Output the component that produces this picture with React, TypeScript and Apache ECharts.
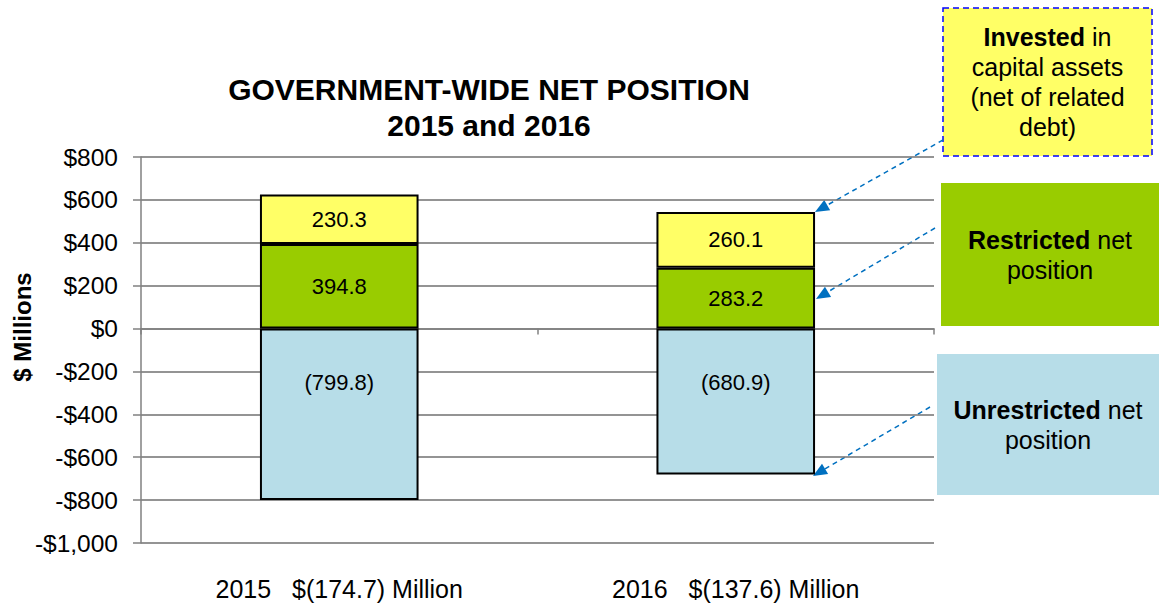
import React, { useEffect, useRef } from 'react';
import * as echarts from 'echarts';

const years = ['2015', '2016'];
const netTotals = ['$(174.7) Million', '$(137.6) Million'];
const invested = [230.3, 260.1];
const restricted = [394.8, 283.2];
const unrestricted = [-799.8, -680.9];
const yMin = -1000;
const yMax = 800;
const yStep = 200;

const FONT = '"Liberation Sans", Arial, sans-serif';
const C_YELLOW = '#FFFF66';
const C_GREEN = '#99CC00';
const C_BLUE = '#B7DDE8';
const C_ARROW = '#0070C0';

function arrow(x1: number, y1: number, x2: number, y2: number) {
  const dx = x2 - x1;
  const dy = y2 - y1;
  const len = Math.sqrt(dx * dx + dy * dy);
  const ux = dx / len;
  const uy = dy / len;
  const px = -uy;
  const py = ux;
  const L = 14;
  const W = 6;
  const bx = x2 - ux * L;
  const by = y2 - uy * L;
  return [
    {
      type: 'line',
      shape: { x1, y1, x2: bx, y2: by },
      style: { stroke: C_ARROW, lineWidth: 1.5, lineDash: [5, 4] },
      silent: true,
    },
    {
      type: 'polygon',
      shape: {
        points: [
          [x2, y2],
          [bx + px * W, by + py * W],
          [bx - px * W, by - py * W],
        ],
      },
      style: { fill: C_ARROW },
      silent: true,
    },
  ];
}

function legendBox(x: number, y: number, w: number, h: number, fill: string, text: string, dashed: boolean) {
  return [
    {
      type: 'rect',
      shape: { x, y, width: w, height: h },
      style: dashed
        ? { fill, stroke: '#0000FF', lineWidth: 1.5, lineDash: [6, 4] }
        : { fill },
      silent: true,
    },
    {
      type: 'text',
      x: x + w / 2,
      y: y + h / 2,
      style: {
        text,
        align: 'center',
        verticalAlign: 'middle',
        fontFamily: FONT,
        fontSize: 25,
        lineHeight: 30,
        fill: '#000',
        rich: {
          b: { fontFamily: FONT, fontSize: 25, fontWeight: 'bold', lineHeight: 30, fill: '#000' },
        },
      },
      silent: true,
    },
  ];
}

function fmtAxis(v: number) {
  const a = Math.abs(v).toLocaleString('en-US');
  return v < 0 ? '-$' + a : '$' + a;
}

export default function App() {
  const ref = useRef<HTMLDivElement>(null);
  useEffect(() => {
    if (!ref.current) return;
    const chart = echarts.init(ref.current, null, { renderer: 'svg' });
    const barCommon = {
      type: 'bar',
      stack: 'total',
      barWidth: '40%',
      itemStyle: { borderColor: '#000', borderWidth: 2 },
    };
    chart.setOption({
      animation: false,
      backgroundColor: '#fff',
      textStyle: { fontFamily: FONT },
      title: {
        text: 'GOVERNMENT-WIDE NET POSITION\n2015 and 2016',
        left: 484,
        top: 66,
        textAlign: 'center',
        textStyle: { fontFamily: FONT, fontSize: 30, fontWeight: 'bold', color: '#000', lineHeight: 36 },
      },
      grid: { left: 141, right: 225, top: 157, bottom: 71, containLabel: false },
      xAxis: [
        {
          type: 'category',
          data: years,
          axisLine: { onZero: true, lineStyle: { color: '#808080', width: 1.5 } },
          axisTick: { show: true, length: 6, lineStyle: { color: '#808080', width: 1.5 } },
          axisLabel: { show: false },
        },
        {
          type: 'category',
          position: 'bottom',
          data: years.map((y, i) => y + '   ' + netTotals[i]),
          axisLine: { show: false, onZero: false },
          axisTick: { show: false },
          axisLabel: { margin: 33, fontFamily: FONT, fontSize: 25, color: '#000' },
        },
      ],
      yAxis: {
        type: 'value',
        min: yMin,
        max: yMax,
        interval: yStep,
        axisLine: { show: true, lineStyle: { color: '#808080', width: 1.5 } },
        axisTick: { show: true, length: 8, lineStyle: { color: '#808080', width: 1.5 } },
        axisLabel: { formatter: fmtAxis, fontFamily: FONT, fontSize: 24.5, color: '#000', margin: 23 },
        splitLine: { show: true, lineStyle: { color: '#707070', width: 1.5 } },
      },
      series: [
        {
          ...barCommon,
          name: 'Unrestricted net position',
          data: unrestricted,
          itemStyle: { ...barCommon.itemStyle, color: C_BLUE },
          label: {
            show: true,
            position: 'insideTop',
            distance: 43,
            formatter: (p: any) => '(' + Math.abs(p.value).toFixed(1) + ')',
            fontFamily: FONT,
            fontSize: 22,
            color: '#000',
          },
        },
        {
          ...barCommon,
          name: 'Restricted net position',
          data: restricted,
          itemStyle: { ...barCommon.itemStyle, color: C_GREEN },
          label: {
            show: true,
            position: 'inside',
            formatter: (p: any) => Number(p.value).toFixed(1),
            fontFamily: FONT,
            fontSize: 22,
            color: '#000',
          },
        },
        {
          ...barCommon,
          name: 'Invested in capital assets (net of related debt)',
          data: invested,
          itemStyle: { ...barCommon.itemStyle, color: C_YELLOW },
          label: {
            show: true,
            position: 'inside',
            formatter: (p: any) => Number(p.value).toFixed(1),
            fontFamily: FONT,
            fontSize: 22,
            color: '#000',
          },
        },
      ],
      graphic: [
        {
          type: 'text',
          x: 22,
          y: 327,
          rotation: Math.PI / 2,
          style: {
            text: '$ Millions',
            align: 'center',
            verticalAlign: 'middle',
            fontFamily: FONT,
            fontSize: 24,
            fontWeight: 'bold',
            fill: '#000',
          },
          silent: true,
        },
        ...legendBox(943, 8, 209, 148, C_YELLOW, '{b|Invested} in\ncapital assets\n(net of related\ndebt)', true),
        ...legendBox(941, 183, 218, 143, C_GREEN, '{b|Restricted} net\nposition', false),
        ...legendBox(937, 354, 222, 141, C_BLUE, '{b|Unrestricted} net\nposition', false),
        ...arrow(943, 140, 815, 212),
        ...arrow(935, 228, 816, 299),
        ...arrow(930, 407, 813, 476),
      ],
    });
    return () => chart.dispose();
  }, []);
  return <div ref={ref} style={{ position: 'fixed', left: 0, top: 0, width: 1159, height: 614 }} />;
}
